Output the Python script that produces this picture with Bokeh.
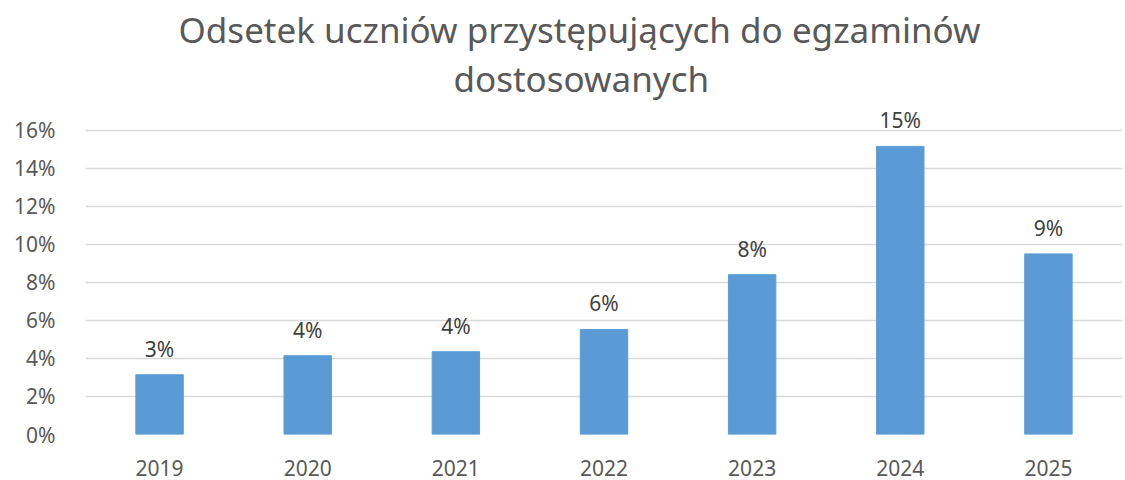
from bokeh.plotting import figure
from bokeh.models import ColumnDataSource, FactorRange, Range1d, Title, NumeralTickFormatter, FixedTicker, LabelSet
from bokeh.core.properties import value
from bokeh.embed import file_html
from bokeh.resources import INLINE

years = ["2019", "2020", "2021", "2022", "2023", "2024", "2025"]
shares = [0.0314, 0.0414, 0.0435, 0.0552, 0.0840, 0.1514, 0.0949]
labels = ["3%", "4%", "4%", "6%", "8%", "15%", "9%"]
title_lines = ["Odsetek uczniów przystępujących do egzaminów", "dostosowanych"]

FONT = "Noto Sans"
GREY = "#595959"

src = ColumnDataSource(dict(x=years, top=shares, lab=labels))

p = figure(width=1125, height=480, x_range=FactorRange(*years, range_padding=0),
           y_range=Range1d(0, 0.175), output_backend="svg", toolbar_location=None,
           min_border_left=85, min_border_right=3, min_border_bottom=46, min_border_top=101)
p.title = None
p.outline_line_color = None
p.background_fill_color = "white"
p.border_fill_color = "white"

p.vbar(x="x", top="top", width=0.32, source=src, color="#5b9bd5")

p.add_layout(LabelSet(x="x", y="top", text="lab", source=src, text_align="center",
                      text_baseline="alphabetic", y_offset=18, text_font=value(FONT),
                      text_font_size="21px", text_color="#404040"))

p.yaxis.ticker = FixedTicker(ticks=[i * 0.02 for i in range(9)])
p.yaxis.formatter = NumeralTickFormatter(format="0%")
for ax in (p.xaxis, p.yaxis):
    ax.axis_line_color = None
    ax.major_tick_line_color = None
    ax.minor_tick_line_color = None
    ax.major_label_text_font = FONT
    ax.major_label_text_font_size = "21px"
    ax.major_label_text_color = GREY
p.yaxis.major_label_standoff = 24
p.xaxis.major_label_standoff = 19
p.xgrid.grid_line_color = None
p.ygrid.grid_line_color = "#d9d9d9"
p.ygrid.grid_line_width = 1.5

offsets = [93, 368]
for line, off in reversed(list(zip(title_lines, offsets))):
    p.add_layout(Title(text=line, align="left", offset=off, standoff=0, text_font=FONT,
                       text_font_size="35px", text_font_style="normal",
                       text_color=GREY), "above")

open("out.html", "w").write(file_html(p, INLINE))
